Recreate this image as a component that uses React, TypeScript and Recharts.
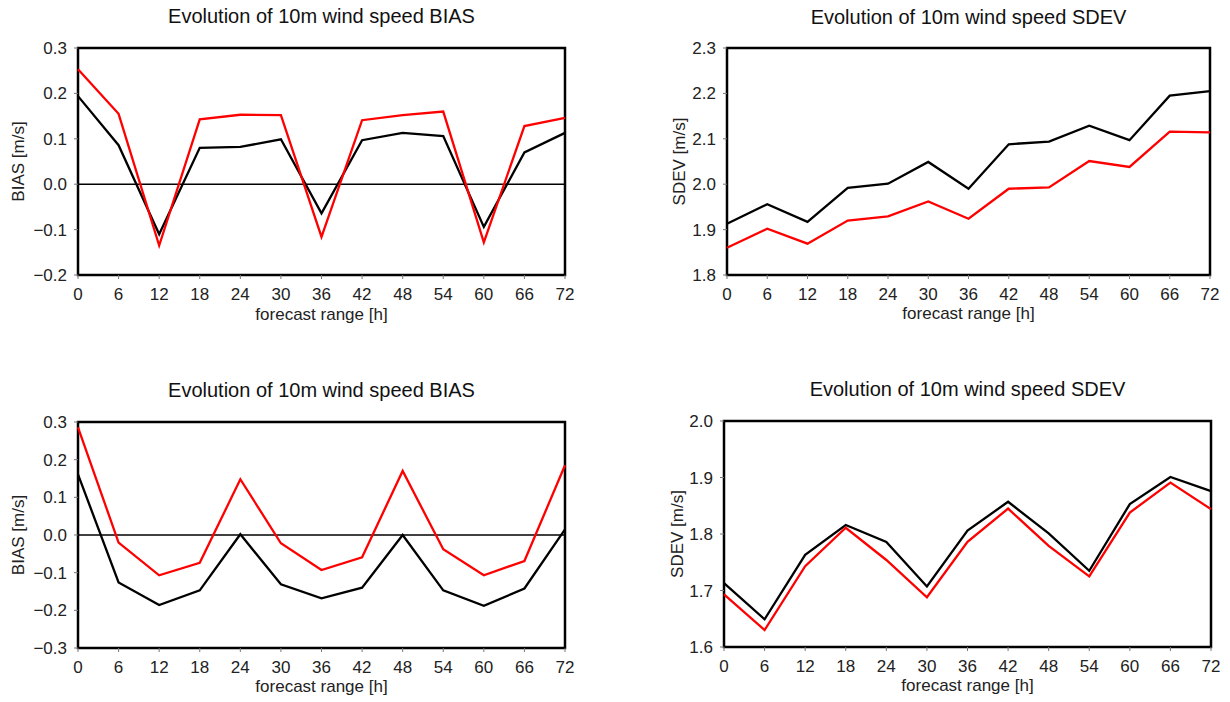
import React from "react";
import {
  LineChart,
  Line,
  XAxis,
  YAxis,
  ReferenceLine,
  ReferenceArea,
  Label,
} from "recharts";

// forecast hours on the x axis
const hours = [0, 6, 12, 18, 24, 30, 36, 42, 48, 54, 60, 66, 72];

// top left: BIAS
const biasTopBlack = [0.194, 0.086, -0.11, 0.08, 0.082, 0.099, -0.064, 0.097, 0.113, 0.106, -0.094, 0.07, 0.113];
const biasTopRed = [0.253, 0.155, -0.135, 0.143, 0.153, 0.152, -0.116, 0.141, 0.152, 0.16, -0.128, 0.128, 0.146];

// top right: SDEV
const sdevTopBlack = [1.913, 1.956, 1.917, 1.992, 2.001, 2.049, 1.99, 2.088, 2.094, 2.129, 2.097, 2.195, 2.205];
const sdevTopRed = [1.86, 1.902, 1.869, 1.92, 1.929, 1.962, 1.924, 1.99, 1.993, 2.051, 2.038, 2.116, 2.114];

// bottom left: BIAS
const biasBottomBlack = [0.161, -0.126, -0.186, -0.147, 0.002, -0.131, -0.168, -0.14, 0.0, -0.147, -0.188, -0.142, 0.015];
const biasBottomRed = [0.286, -0.02, -0.107, -0.074, 0.148, -0.022, -0.093, -0.059, 0.17, -0.038, -0.107, -0.069, 0.185];

// bottom right: SDEV
const sdevBottomBlack = [1.713, 1.649, 1.763, 1.816, 1.786, 1.707, 1.806, 1.857, 1.801, 1.735, 1.853, 1.901, 1.876];
const sdevBottomRed = [1.693, 1.63, 1.743, 1.811, 1.754, 1.688, 1.786, 1.845, 1.779, 1.725, 1.838, 1.891, 1.844];

const biasTopTicks = [-0.2, -0.1, 0, 0.1, 0.2, 0.3];
const sdevTopTicks = [1.8, 1.9, 2.0, 2.1, 2.2, 2.3];
const biasBottomTicks = [-0.3, -0.2, -0.1, 0, 0.1, 0.2, 0.3];
const sdevBottomTicks = [1.6, 1.7, 1.8, 1.9, 2.0];

const FONT = '"Liberation Sans", Arial, Helvetica, sans-serif';
const Y_W = 80;
const X_H = 60;
const PAD = 12;

const fmt = (v: number) => v.toFixed(1).replace("-", "\u2212");

function Panel({ box, title, titleY, yLabel, yLabelX, xLabelY, yTicks, black, red, zero }: any) {
  const w = box.x1 - box.x0;
  const h = box.y1 - box.y0;
  const left = box.x0 - Y_W;
  const top = box.y0 - PAD;
  const data = hours.map((hr, i) => ({ hour: hr, black: black[i], red: red[i] }));
  const yMin = yTicks[0];
  const yMax = yTicks[yTicks.length - 1];
  const tickStyle = { fontSize: 17, fill: "#222", fontFamily: FONT };

  return (
    <>
      <div
        style={{
          position: "absolute",
          left: box.x0 - 20,
          width: w + 40,
          top: titleY - 17,
          lineHeight: "20px",
          fontSize: 20,
          textAlign: "center",
          color: "#111",
          fontFamily: FONT,
          whiteSpace: "nowrap",
        }}
      >
        {title}
      </div>
      <div style={{ position: "absolute", left, top }}>
        <LineChart
          width={w + Y_W + PAD}
          height={h + PAD + X_H}
          data={data}
          margin={{ top: PAD, right: PAD, bottom: 0, left: 0 }}
        >
          <XAxis
            dataKey="hour"
            type="number"
            domain={[0, 72]}
            ticks={hours}
            interval={0}
            height={X_H}
            axisLine={false}
            tickLine={{ stroke: "#777" }}
            tickSize={4}
            tickMargin={9}
            tick={tickStyle}
          >
            <Label
              content={() => (
                <text
                  x={Y_W + w / 2}
                  y={xLabelY - top}
                  textAnchor="middle"
                  fontSize={17}
                  fill="#222"
                  fontFamily={FONT}
                >
                  forecast range [h]
                </text>
              )}
            />
          </XAxis>
          <YAxis
            type="number"
            domain={[yMin, yMax]}
            ticks={yTicks}
            interval={0}
            width={Y_W}
            axisLine={false}
            tickLine={{ stroke: "#777" }}
            tickSize={4}
            tickMargin={7}
            tick={tickStyle}
            tickFormatter={fmt}
          >
            <Label
              content={() => {
                const cx = yLabelX - left;
                const cy = PAD + h / 2;
                return (
                  <text
                    x={cx}
                    y={cy}
                    transform={`rotate(-90, ${cx}, ${cy})`}
                    textAnchor="middle"
                    dominantBaseline="central"
                    fontSize={17}
                    fill="#222"
                    fontFamily={FONT}
                  >
                    {yLabel}
                  </text>
                );
              }}
            />
          </YAxis>
          {zero && <ReferenceLine y={0} stroke="#000" strokeWidth={1.4} />}
          <Line type="linear" dataKey="black" stroke="#000" strokeWidth={2.3} dot={false} isAnimationActive={false} />
          <Line type="linear" dataKey="red" stroke="#ff0000" strokeWidth={2.3} dot={false} isAnimationActive={false} />
          <ReferenceArea
            x1={0}
            x2={72}
            y1={yMin}
            y2={yMax}
            fill="none"
            stroke="#000"
            strokeWidth={2.5}
            ifOverflow="visible"
          />
        </LineChart>
      </div>
    </>
  );
}

export default function App() {
  return (
    <div
      style={{
        position: "absolute",
        left: 0,
        top: 0,
        width: 1230,
        height: 702,
        background: "#fff",
        overflow: "hidden",
      }}
    >
      <Panel
        box={{ x0: 78, x1: 565, y0: 48, y1: 275 }}
        title="Evolution of 10m wind speed BIAS"
        titleY={23}
        yLabel="BIAS [m/s]"
        yLabelX={18}
        xLabelY={320}
        yTicks={biasTopTicks}
        black={biasTopBlack}
        red={biasTopRed}
        zero
      />
      <Panel
        box={{ x0: 727, x1: 1210, y0: 48, y1: 275 }}
        title="Evolution of 10m wind speed SDEV"
        titleY={24}
        yLabel="SDEV [m/s]"
        yLabelX={679}
        xLabelY={319}
        yTicks={sdevTopTicks}
        black={sdevTopBlack}
        red={sdevTopRed}
      />
      <Panel
        box={{ x0: 78, x1: 565, y0: 422, y1: 648 }}
        title="Evolution of 10m wind speed BIAS"
        titleY={397}
        yLabel="BIAS [m/s]"
        yLabelX={18}
        xLabelY={692}
        yTicks={biasBottomTicks}
        black={biasBottomBlack}
        red={biasBottomRed}
        zero
      />
      <Panel
        box={{ x0: 724, x1: 1211, y0: 421, y1: 647 }}
        title="Evolution of 10m wind speed SDEV"
        titleY={396}
        yLabel="SDEV [m/s]"
        yLabelX={677}
        xLabelY={691}
        yTicks={sdevBottomTicks}
        black={sdevBottomBlack}
        red={sdevBottomRed}
      />
    </div>
  );
}
